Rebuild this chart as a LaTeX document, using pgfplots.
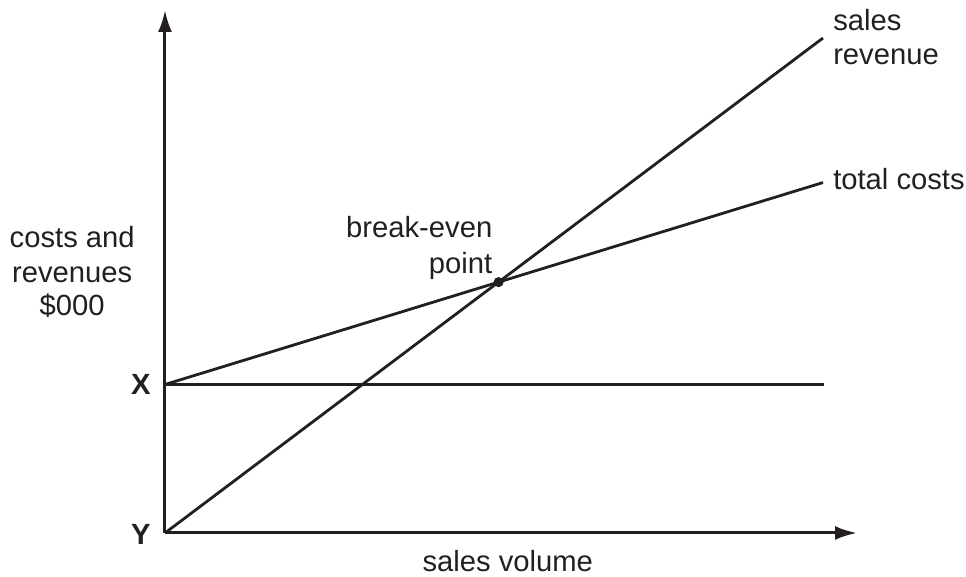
\documentclass[border=0pt]{standalone}
\usepackage{fontspec}
\setmainfont{Liberation Sans}
\usepackage{pgfplots}
\pgfplotsset{compat=1.18}
\usetikzlibrary{arrows.meta}
\definecolor{ink}{HTML}{231F20}

\begin{document}
\begin{tikzpicture}[every node/.style={font=\fontsize{14.6pt}{17.5pt}\selectfont, text=ink, inner sep=0pt}]
\begin{axis}[
    scale only axis,
    width=346pt,
    height=261.5pt,
    xmin=0, xmax=105.17,
    ymin=0, ymax=528.3,
    axis lines=left,
    axis line style={ink, line width=1.5pt, -{Latex[length=11pt, width=7pt]}},
    xtick=\empty,
    ytick=\empty,
    clip=false,
]
% fixed costs
\addplot[ink, line width=1.4pt] coordinates {(0,150) (100.2,150)};
% total costs
\addplot[ink, line width=1.4pt] coordinates {(0,150) (100,354)};
% sales revenue
\addplot[ink, line width=1.4pt] coordinates {(0,0) (100,500)};
% break-even point
\addplot[only marks, mark=*, mark size=2.3pt, ink] coordinates {(50.7,253.4)};

\node[anchor=base west] at (axis cs:101.5,508) {sales};
\node[anchor=base west] at (axis cs:101.5,473) {revenue};
\node[anchor=base west] at (axis cs:101.5,346.5) {total costs};
\node[anchor=base east] at (axis cs:49.8,298) {break-even};
\node[anchor=base east] at (axis cs:49.8,262.6) {point};
\node[anchor=base] at (axis cs:-14.1,287.9) {costs and};
\node[anchor=base] at (axis cs:-14.1,253.5) {revenues};
\node[anchor=base] at (axis cs:-14.1,220.2) {\$000};
\node[anchor=base] at (axis cs:-3.65,139.4) {\textbf{X}};
\node[anchor=base] at (axis cs:-3.65,-12.1) {\textbf{Y}};
\node[anchor=base] at (axis cs:52.1,-39.4) {sales volume};
\end{axis}
\pgfresetboundingbox
\path (-82.5pt,-22pt) rectangle (400.5pt,266.5pt);
\end{tikzpicture}
\end{document}
